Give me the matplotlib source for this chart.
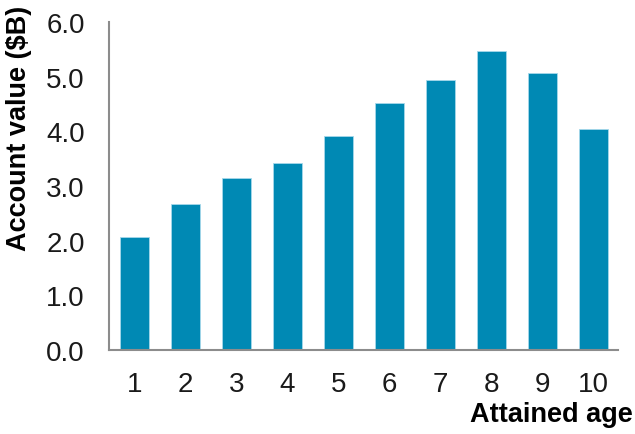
import matplotlib
matplotlib.use("Agg")
import matplotlib.pyplot as plt
import numpy as np

plt.rcParams['font.family'] = ['Liberation Sans', 'DejaVu Sans']

ages = ['1', '2', '3', '4', '5', '6', '7', '8', '9', '10']
account_value = [2.06, 2.68, 3.15, 3.43, 3.91, 4.52, 4.94, 5.47, 5.07, 4.05]
yticks = [0.0, 1.0, 2.0, 3.0, 4.0, 5.0, 6.0]

fig = plt.figure(figsize=(6.35, 4.35), dpi=100)
ax = fig.add_axes([0.171, 0.193, 0.802, 0.754])

x = np.arange(1, len(ages) + 1)
ax.bar(x, account_value, width=0.57, color='#0089b4', edgecolor='#a6d8ea', linewidth=0.6)

ax.set_xlim(0.49, 10.48)
ax.set_ylim(0, 6)
ax.set_xticks(x)
ax.set_xticklabels(ages)
ax.set_yticks(yticks)
ax.set_yticklabels(["{:.1f}".format(v) for v in yticks])
ax.tick_params(axis='both', length=0, labelsize=20, colors='#1a1a1a')
ax.tick_params(axis='y', pad=17)
ax.tick_params(axis='x', pad=15)

for side in ['top', 'right']:
    ax.spines[side].set_visible(False)
for side in ['left', 'bottom']:
    ax.spines[side].set_color('#8c8c8c')
    ax.spines[side].set_linewidth(1.5)

ax.set_ylabel("Account value ($B)", fontsize=19.5, fontweight='bold')
ax.yaxis.set_label_coords(-0.150, 0.68)
fig.text(0.997, 0.045, "Attained age", ha='right', va='center', fontsize=19.5, fontweight='bold')

fig.savefig("out.png", dpi=100)
